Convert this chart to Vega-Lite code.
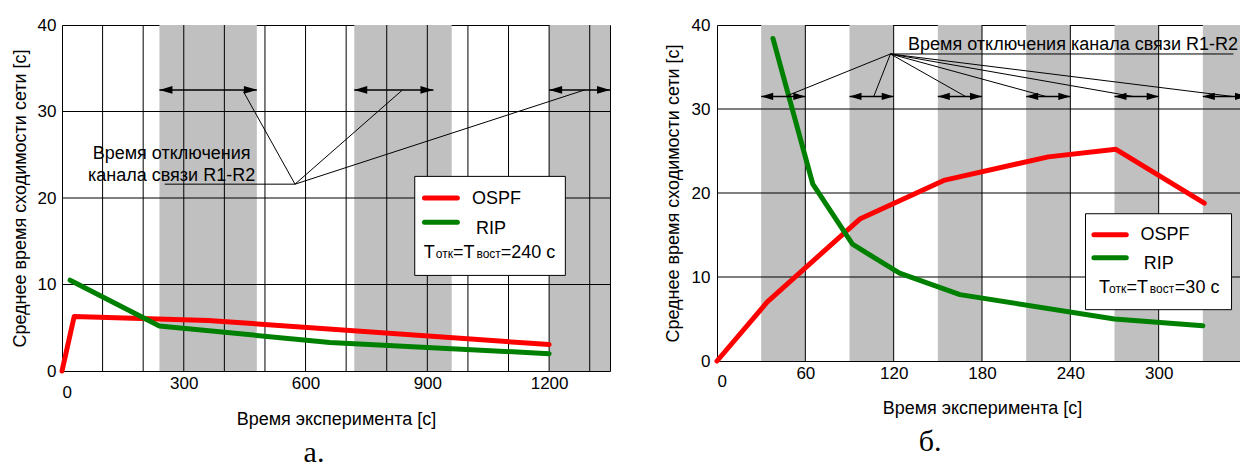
{
  "$schema": "https://vega.github.io/schema/vega-lite/v6.json",
  "padding": {"left": 10, "top": 15, "right": 0, "bottom": 0},
  "spacing": 51,
  "config": {
    "font": "Liberation Sans",
    "view": {"stroke": "black", "strokeWidth": 1},
    "axis": {
      "labelFont": "Liberation Sans", "labelFontSize": 17, "labelColor": "black",
      "titleFont": "Liberation Sans", "titleFontSize": 18, "titleFontWeight": "normal", "titleColor": "black",
      "grid": false, "ticks": false, "domain": false, "format": "d"
    },
    "title": {"font": "Liberation Serif", "fontSize": 30, "fontWeight": "normal", "color": "black"}
  },
  "datasets": {
    "gridy": [{"v": 10}, {"v": 20}, {"v": 30}],
    "bandsA": [{"start": 240, "end": 480}, {"start": 720, "end": 960}, {"start": 1200, "end": 1350}],
    "gridxA": [{"v": 100}, {"v": 200}, {"v": 300}, {"v": 400}, {"v": 500}, {"v": 600}, {"v": 700}, {"v": 800}, {"v": 900}, {"v": 1000}, {"v": 1100}, {"v": 1200}, {"v": 1300}],
    "seriesA": [
      {"protocol": "OSPF", "t": 0, "v": 0},
      {"protocol": "OSPF", "t": 30, "v": 6.3},
      {"protocol": "OSPF", "t": 360, "v": 5.85},
      {"protocol": "OSPF", "t": 1200, "v": 3.05},
      {"protocol": "RIP", "t": 20, "v": 10.5},
      {"protocol": "RIP", "t": 240, "v": 5.2},
      {"protocol": "RIP", "t": 660, "v": 3.3},
      {"protocol": "RIP", "t": 1200, "v": 2.0}
    ],
    "arrowsA": [{"from": 240, "to": 480, "h": 32.5}, {"from": 720, "to": 915, "h": 32.5}, {"from": 1200, "to": 1350, "h": 32.5}],
    "leadersA": [
      {"x": 574, "y": 21.6, "x2": 447, "y2": 32.3},
      {"x": 574, "y": 21.6, "x2": 839, "y2": 32.5},
      {"x": 574, "y": 21.6, "x2": 1288, "y2": 32.5},
      {"x": 253, "y": 21.6, "x2": 574, "y2": 21.6}
    ],
    "labelsA": [{"x": 270, "y": 24.5, "s": "Время отключения"}, {"x": 270, "y": 22.0, "s": "канала связи R1-R2"}],
    "boxA": [{"x": 869, "x2": 1240, "y": 11.05, "y2": 22.5}],
    "keyA": [{"protocol": "OSPF", "x": 893, "x2": 974, "y": 20.0}, {"protocol": "RIP", "x": 893, "x2": 974, "y": 17.2}],
    "keyTextA": [{"x": 1010, "y": 19.33, "s": "OSPF"}, {"x": 1020, "y": 15.87, "s": "RIP"}],
    "noteA": [{"x": 891, "y": 13.1, "s": "T"}, {"x": 963, "y": 13.1, "s": "=T"}, {"x": 1081, "y": 13.1, "s": "=240 с"}],
    "noteSubA": [{"x": 921, "y": 13.1, "s": "отк"}, {"x": 1021, "y": 13.1, "s": "вост"}],
    "bandsB": [{"start": 30, "end": 60}, {"start": 90, "end": 120}, {"start": 150, "end": 180}, {"start": 210, "end": 240}, {"start": 270, "end": 300}, {"start": 330, "end": 360}],
    "gridxB": [{"v": 60}, {"v": 120}, {"v": 180}, {"v": 240}, {"v": 300}],
    "seriesB": [
      {"protocol": "OSPF", "t": 0, "v": 0},
      {"protocol": "OSPF", "t": 34, "v": 7.0},
      {"protocol": "OSPF", "t": 97, "v": 16.9},
      {"protocol": "OSPF", "t": 154, "v": 21.5},
      {"protocol": "OSPF", "t": 225, "v": 24.3},
      {"protocol": "OSPF", "t": 271, "v": 25.2},
      {"protocol": "OSPF", "t": 331, "v": 18.8},
      {"protocol": "RIP", "t": 38, "v": 38.4},
      {"protocol": "RIP", "t": 65, "v": 21.1},
      {"protocol": "RIP", "t": 92, "v": 13.9},
      {"protocol": "RIP", "t": 124, "v": 10.45},
      {"protocol": "RIP", "t": 165, "v": 7.9},
      {"protocol": "RIP", "t": 270, "v": 5.0},
      {"protocol": "RIP", "t": 330, "v": 4.2}
    ],
    "arrowsB": [{"from": 30, "to": 60, "h": 31.5}, {"from": 90, "to": 120, "h": 31.5}, {"from": 150, "to": 180, "h": 31.5}, {"from": 210, "to": 240, "h": 31.5}, {"from": 270, "to": 300, "h": 31.5}, {"from": 330, "to": 360, "h": 31.5}],
    "leadersB": [
      {"x": 117.8, "y": 36.55, "x2": 48, "y2": 31.6},
      {"x": 117.8, "y": 36.55, "x2": 106.5, "y2": 31.5},
      {"x": 117.8, "y": 36.55, "x2": 168.7, "y2": 31.5},
      {"x": 117.8, "y": 36.55, "x2": 223.2, "y2": 31.5},
      {"x": 117.8, "y": 36.55, "x2": 282.3, "y2": 31.5},
      {"x": 117.8, "y": 36.55, "x2": 349.7, "y2": 31.5},
      {"x": 117.8, "y": 36.55, "x2": 350.8, "y2": 36.55}
    ],
    "labelsB": [{"x": 129.8, "y": 37.0, "s": "Время отключения канала связи R1-R2"}],
    "boxB": [{"x": 250.3, "x2": 349.5, "y": 6.11, "y2": 17.53}],
    "keyB": [{"protocol": "OSPF", "x": 256, "x2": 278, "y": 15.03}, {"protocol": "RIP", "x": 256, "x2": 278, "y": 12.3}],
    "keyTextB": [{"x": 287.6, "y": 14.35, "s": "OSPF"}, {"x": 289.9, "y": 10.9, "s": "RIP"}],
    "noteB": [{"x": 259.5, "y": 8.13, "s": "T"}, {"x": 278.2, "y": 8.13, "s": "=T"}, {"x": 311, "y": 8.13, "s": "=30 с"}],
    "noteSubB": [{"x": 266.3, "y": 8.13, "s": "отк"}, {"x": 294, "y": 8.13, "s": "вост"}]
  },
  "hconcat": [
    {
      "width": 548,
      "height": 346,
      "title": {"text": "а.", "orient": "bottom", "offset": 10, "dx": -22},
      "layer": [
        {
          "data": {"name": "seriesA"},
          "mark": {"type": "line", "strokeWidth": 5, "strokeCap": "round", "strokeJoin": "round", "opacity": 0},
          "encoding": {
            "x": {"field": "t", "type": "quantitative", "scale": {"domain": [0, 1350], "nice": false, "zero": false},
              "axis": {"title": "Время эксперимента [с]", "values": [0, 300, 600, 900, 1200], "labelPadding": {"condition": {"test": "datum.value === 0", "value": 13}, "value": 4}, "titlePadding": 10}},
            "y": {"field": "v", "type": "quantitative", "scale": {"domain": [0, 40], "nice": false, "zero": false},
              "axis": {"title": "Среднее время сходимости сети [с]", "values": [0, 10, 20, 30, 40], "labelPadding": 6, "titlePadding": 8}},
            "detail": {"field": "protocol"}
          }
        },
        {
          "data": {"name": "bandsA"},
          "mark": {"type": "rect", "color": "#c0c0c0"},
          "encoding": {
            "x": {"field": "start", "type": "quantitative"},
            "x2": {"field": "end"},
            "y": {"datum": 0, "type": "quantitative"},
            "y2": {"datum": 40}
          }
        },
        {
          "data": {"name": "gridxA"},
          "mark": {"type": "rule", "color": "black", "strokeWidth": 1},
          "encoding": {
            "x": {"field": "v", "type": "quantitative"},
            "y": {"datum": 0, "type": "quantitative"},
            "y2": {"datum": 40}
          }
        },
        {
          "data": {"name": "gridy"},
          "mark": {"type": "rule", "color": "black", "strokeWidth": 1},
          "encoding": {
            "y": {"field": "v", "type": "quantitative"},
            "x": {"datum": 0, "type": "quantitative"},
            "x2": {"datum": 1350}
          }
        },
        {
          "data": {"name": "seriesA"},
          "mark": {"type": "line", "strokeWidth": 5, "strokeCap": "round", "strokeJoin": "round"},
          "encoding": {
            "x": {"field": "t", "type": "quantitative"},
            "y": {"field": "v", "type": "quantitative"},
            "color": {"field": "protocol", "type": "nominal", "scale": {"domain": ["OSPF", "RIP"], "range": ["#ff0000", "#008000"]}, "legend": null}
          }
        },
        {
          "data": {"name": "arrowsA"},
          "mark": {"type": "rule", "color": "black", "strokeWidth": 1.5},
          "encoding": {
            "x": {"field": "from", "type": "quantitative"},
            "x2": {"field": "to"},
            "y": {"field": "h", "type": "quantitative"}
          }
        },
        {
          "data": {"name": "arrowsA"},
          "mark": {"type": "point", "shape": "M0,0L1,-0.3L1,0.3Z", "size": 676, "filled": true, "color": "black", "opacity": 1, "strokeWidth": 0},
          "encoding": {
            "x": {"field": "from", "type": "quantitative"},
            "y": {"field": "h", "type": "quantitative"}
          }
        },
        {
          "data": {"name": "arrowsA"},
          "mark": {"type": "point", "shape": "M0,0L-1,-0.3L-1,0.3Z", "size": 676, "filled": true, "color": "black", "opacity": 1, "strokeWidth": 0},
          "encoding": {
            "x": {"field": "to", "type": "quantitative"},
            "y": {"field": "h", "type": "quantitative"}
          }
        },
        {
          "data": {"name": "leadersA"},
          "mark": {"type": "rule", "color": "black", "strokeWidth": 1},
          "encoding": {
            "x": {"field": "x", "type": "quantitative"},
            "y": {"field": "y", "type": "quantitative"},
            "x2": {"field": "x2"},
            "y2": {"field": "y2"}
          }
        },
        {
          "data": {"name": "labelsA"},
          "mark": {"type": "text", "font": "Liberation Sans", "fontSize": 18, "align": "center", "baseline": "alphabetic", "color": "black"},
          "encoding": {
            "x": {"field": "x", "type": "quantitative"},
            "y": {"field": "y", "type": "quantitative"},
            "text": {"field": "s"}
          }
        },
        {
          "data": {"name": "boxA"},
          "mark": {"type": "rect", "fill": "white", "stroke": "black", "strokeWidth": 1},
          "encoding": {
            "x": {"field": "x", "type": "quantitative"},
            "x2": {"field": "x2"},
            "y": {"field": "y", "type": "quantitative"},
            "y2": {"field": "y2"}
          }
        },
        {
          "data": {"name": "keyA"},
          "mark": {"type": "rule", "strokeWidth": 5, "strokeCap": "round"},
          "encoding": {
            "x": {"field": "x", "type": "quantitative"},
            "x2": {"field": "x2"},
            "y": {"field": "y", "type": "quantitative"},
            "color": {"field": "protocol", "type": "nominal", "legend": null}
          }
        },
        {
          "data": {"name": "keyTextA"},
          "mark": {"type": "text", "font": "Liberation Sans", "fontSize": 18, "align": "left", "baseline": "alphabetic", "color": "black"},
          "encoding": {
            "x": {"field": "x", "type": "quantitative"},
            "y": {"field": "y", "type": "quantitative"},
            "text": {"field": "s"}
          }
        },
        {
          "data": {"name": "noteA"},
          "mark": {"type": "text", "font": "Liberation Sans", "fontSize": 18, "align": "left", "baseline": "alphabetic", "color": "black"},
          "encoding": {
            "x": {"field": "x", "type": "quantitative"},
            "y": {"field": "y", "type": "quantitative"},
            "text": {"field": "s"}
          }
        },
        {
          "data": {"name": "noteSubA"},
          "mark": {"type": "text", "font": "Liberation Sans", "fontSize": 12, "align": "left", "baseline": "alphabetic", "color": "black"},
          "encoding": {
            "x": {"field": "x", "type": "quantitative"},
            "y": {"field": "y", "type": "quantitative"},
            "text": {"field": "s"}
          }
        }
      ]
    },
    {
      "width": 530,
      "height": 336,
      "title": {"text": "б.", "orient": "bottom", "offset": 10, "dx": -52},
      "layer": [
        {
          "data": {"name": "seriesB"},
          "mark": {"type": "line", "strokeWidth": 5, "opacity": 0},
          "encoding": {
            "x": {"field": "t", "type": "quantitative", "scale": {"domain": [0, 360], "nice": false, "zero": false},
              "axis": {"title": "Время эксперимента [с]", "values": [0, 60, 120, 180, 240, 300], "labelPadding": {"condition": {"test": "datum.value === 0", "value": 12}, "value": 4}, "titlePadding": 10}},
            "y": {"field": "v", "type": "quantitative", "scale": {"domain": [0, 40], "nice": false, "zero": false},
              "axis": {"title": "Среднее время сходимости сети [с]", "values": [0, 10, 20, 30, 40], "labelPadding": 7, "titlePadding": 9}},
            "detail": {"field": "protocol"}
          }
        },
        {
          "data": {"name": "bandsB"},
          "mark": {"type": "rect", "color": "#c0c0c0"},
          "encoding": {
            "x": {"field": "start", "type": "quantitative"},
            "x2": {"field": "end"},
            "y": {"datum": 0, "type": "quantitative"},
            "y2": {"datum": 40}
          }
        },
        {
          "data": {"name": "gridxB"},
          "mark": {"type": "rule", "color": "black", "strokeWidth": 1},
          "encoding": {
            "x": {"field": "v", "type": "quantitative"},
            "y": {"datum": 0, "type": "quantitative"},
            "y2": {"datum": 40}
          }
        },
        {
          "data": {"name": "gridy"},
          "mark": {"type": "rule", "color": "black", "strokeWidth": 1},
          "encoding": {
            "y": {"field": "v", "type": "quantitative"},
            "x": {"datum": 0, "type": "quantitative"},
            "x2": {"datum": 360}
          }
        },
        {
          "data": {"name": "seriesB"},
          "mark": {"type": "line", "strokeWidth": 5, "strokeCap": "round", "strokeJoin": "round"},
          "encoding": {
            "x": {"field": "t", "type": "quantitative"},
            "y": {"field": "v", "type": "quantitative"},
            "color": {"field": "protocol", "type": "nominal", "scale": {"domain": ["OSPF", "RIP"], "range": ["#ff0000", "#008000"]}, "legend": null}
          }
        },
        {
          "data": {"name": "arrowsB"},
          "mark": {"type": "rule", "color": "black", "strokeWidth": 1.5},
          "encoding": {
            "x": {"field": "from", "type": "quantitative"},
            "x2": {"field": "to"},
            "y": {"field": "h", "type": "quantitative"}
          }
        },
        {
          "data": {"name": "arrowsB"},
          "mark": {"type": "point", "shape": "M0,0L1,-0.3L1,0.3Z", "size": 576, "filled": true, "color": "black", "opacity": 1, "strokeWidth": 0},
          "encoding": {
            "x": {"field": "from", "type": "quantitative"},
            "y": {"field": "h", "type": "quantitative"}
          }
        },
        {
          "data": {"name": "arrowsB"},
          "mark": {"type": "point", "shape": "M0,0L-1,-0.3L-1,0.3Z", "size": 576, "filled": true, "color": "black", "opacity": 1, "strokeWidth": 0},
          "encoding": {
            "x": {"field": "to", "type": "quantitative"},
            "y": {"field": "h", "type": "quantitative"}
          }
        },
        {
          "data": {"name": "leadersB"},
          "mark": {"type": "rule", "color": "black", "strokeWidth": 1},
          "encoding": {
            "x": {"field": "x", "type": "quantitative"},
            "y": {"field": "y", "type": "quantitative"},
            "x2": {"field": "x2"},
            "y2": {"field": "y2"}
          }
        },
        {
          "data": {"name": "labelsB"},
          "mark": {"type": "text", "font": "Liberation Sans", "fontSize": 18, "align": "left", "baseline": "alphabetic", "color": "black"},
          "encoding": {
            "x": {"field": "x", "type": "quantitative"},
            "y": {"field": "y", "type": "quantitative"},
            "text": {"field": "s"}
          }
        },
        {
          "data": {"name": "boxB"},
          "mark": {"type": "rect", "fill": "white", "stroke": "black", "strokeWidth": 1},
          "encoding": {
            "x": {"field": "x", "type": "quantitative"},
            "x2": {"field": "x2"},
            "y": {"field": "y", "type": "quantitative"},
            "y2": {"field": "y2"}
          }
        },
        {
          "data": {"name": "keyB"},
          "mark": {"type": "rule", "strokeWidth": 5, "strokeCap": "round"},
          "encoding": {
            "x": {"field": "x", "type": "quantitative"},
            "x2": {"field": "x2"},
            "y": {"field": "y", "type": "quantitative"},
            "color": {"field": "protocol", "type": "nominal", "legend": null}
          }
        },
        {
          "data": {"name": "keyTextB"},
          "mark": {"type": "text", "font": "Liberation Sans", "fontSize": 18, "align": "left", "baseline": "alphabetic", "color": "black"},
          "encoding": {
            "x": {"field": "x", "type": "quantitative"},
            "y": {"field": "y", "type": "quantitative"},
            "text": {"field": "s"}
          }
        },
        {
          "data": {"name": "noteB"},
          "mark": {"type": "text", "font": "Liberation Sans", "fontSize": 18, "align": "left", "baseline": "alphabetic", "color": "black"},
          "encoding": {
            "x": {"field": "x", "type": "quantitative"},
            "y": {"field": "y", "type": "quantitative"},
            "text": {"field": "s"}
          }
        },
        {
          "data": {"name": "noteSubB"},
          "mark": {"type": "text", "font": "Liberation Sans", "fontSize": 12, "align": "left", "baseline": "alphabetic", "color": "black"},
          "encoding": {
            "x": {"field": "x", "type": "quantitative"},
            "y": {"field": "y", "type": "quantitative"},
            "text": {"field": "s"}
          }
        }
      ]
    }
  ]
}
